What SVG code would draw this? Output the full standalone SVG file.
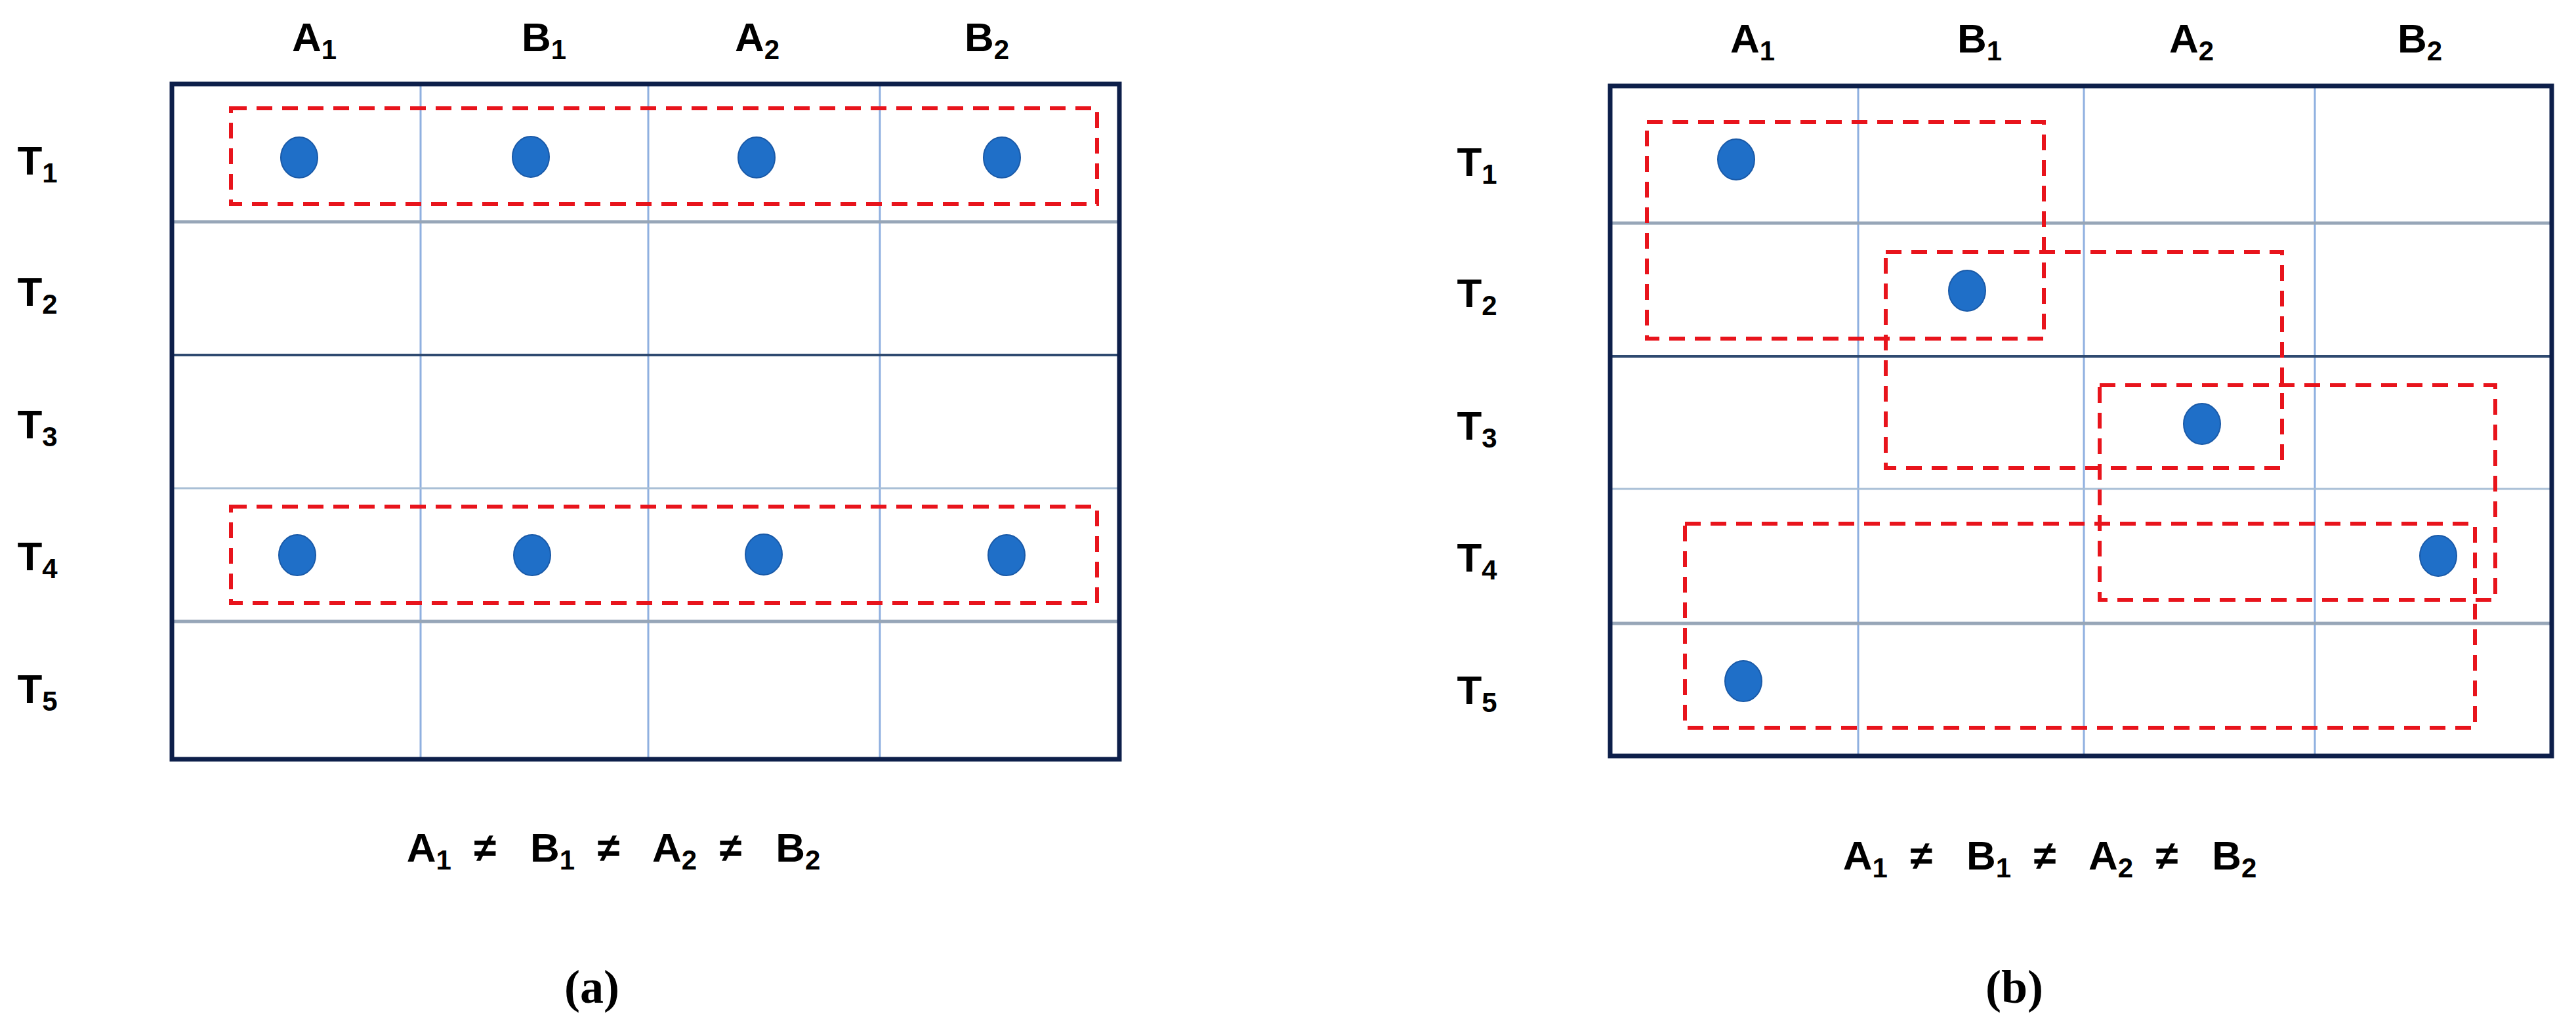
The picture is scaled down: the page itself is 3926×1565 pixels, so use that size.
<svg xmlns="http://www.w3.org/2000/svg" width="3926" height="1565" viewBox="0 0 3926 1565">
<style>
.lbl{font-family:"Liberation Sans",Arial,sans-serif;font-weight:bold;font-size:62px;fill:#000}
.sub{font-size:42px}
.cap{font-family:"Liberation Serif","Times New Roman",serif;font-weight:bold;font-size:72px;fill:#000}
.border{fill:none;stroke:#0d1f4a;stroke-width:7}
.v{stroke:#8fb0e0;stroke-width:3}
.hg{stroke:#97a6b8;stroke-width:5}
.hd{stroke:#2f4a70;stroke-width:4}
.hl{stroke:#a9bfd6;stroke-width:3}
.dash{fill:none;stroke:#e8141c;stroke-width:6;stroke-dasharray:24 15}
.dot{fill:#1f6fc8;stroke:#1a5aa8;stroke-width:2}
</style>
<rect width="3926" height="1565" fill="#fff"/>
<g id="panel-a">
<g id="grid-a">
<line class="v" x1="641" y1="128" x2="641" y2="1157"/>
<line class="v" x1="988" y1="128" x2="988" y2="1157"/>
<line class="v" x1="1341" y1="128" x2="1341" y2="1157"/>
<line class="hg" x1="262" y1="338" x2="1706" y2="338"/>
<line class="hd" x1="262" y1="541" x2="1706" y2="541"/>
<line class="hl" x1="262" y1="744" x2="1706" y2="744"/>
<line class="hg" x1="262" y1="947" x2="1706" y2="947"/>
<rect class="border" x="262" y="128" width="1444" height="1029"/>
</g>
<g id="groups-a">
<rect class="dash" x="352" y="165" width="1320" height="146"/>
<rect class="dash" x="352" y="772" width="1320" height="147"/>
</g>
<g id="dots-a">
<ellipse class="dot" cx="456" cy="240" rx="28" ry="31"/>
<ellipse class="dot" cx="809" cy="239" rx="28" ry="31"/>
<ellipse class="dot" cx="1153" cy="240" rx="28" ry="31"/>
<ellipse class="dot" cx="1527" cy="240" rx="28" ry="31"/>
<ellipse class="dot" cx="453" cy="846" rx="28" ry="31"/>
<ellipse class="dot" cx="811" cy="846" rx="28" ry="31"/>
<ellipse class="dot" cx="1164" cy="845" rx="28" ry="31"/>
<ellipse class="dot" cx="1534" cy="846" rx="28" ry="31"/>
</g>
<g id="cols-a" class="lbl" text-anchor="middle">
<text x="479" y="78">A<tspan class="sub" dy="12">1</tspan></text>
<text x="829" y="78">B<tspan class="sub" dy="12">1</tspan></text>
<text x="1154" y="78">A<tspan class="sub" dy="12">2</tspan></text>
<text x="1504" y="78">B<tspan class="sub" dy="12">2</tspan></text>
</g>
<g id="rows-a" class="lbl" text-anchor="middle">
<text x="57" y="266">T<tspan class="sub" dy="12">1</tspan></text>
<text x="57" y="466">T<tspan class="sub" dy="12">2</tspan></text>
<text x="57" y="668">T<tspan class="sub" dy="12">3</tspan></text>
<text x="57" y="869">T<tspan class="sub" dy="12">4</tspan></text>
<text x="57" y="1071">T<tspan class="sub" dy="12">5</tspan></text>
</g>
<text class="lbl" xml:space="preserve" style="white-space:pre" x="935" y="1313" text-anchor="middle">A<tspan class="sub" dy="12">1</tspan><tspan dy="-12">  ≠   B</tspan><tspan class="sub" dy="12">1</tspan><tspan dy="-12">  ≠   A</tspan><tspan class="sub" dy="12">2</tspan><tspan dy="-12">  ≠   B</tspan><tspan class="sub" dy="12">2</tspan></text>
<text class="cap" x="902" y="1528" text-anchor="middle">(a)</text>
</g>
<g id="panel-b">
<g id="grid-b">
<line class="v" x1="2832" y1="131" x2="2832" y2="1152"/>
<line class="v" x1="3176" y1="131" x2="3176" y2="1152"/>
<line class="v" x1="3528" y1="131" x2="3528" y2="1152"/>
<line class="hg" x1="2454" y1="340" x2="3889" y2="340"/>
<line class="hd" x1="2454" y1="543" x2="3889" y2="543"/>
<line class="hl" x1="2454" y1="745" x2="3889" y2="745"/>
<line class="hg" x1="2454" y1="950" x2="3889" y2="950"/>
<rect class="border" x="2454" y="131" width="1435" height="1021"/>
</g>
<g id="groups-b">
<rect class="dash" x="2510" y="186" width="605" height="330"/>
<rect class="dash" x="2874" y="384" width="604" height="329"/>
<rect class="dash" x="3200" y="587" width="603" height="327"/>
<rect class="dash" x="2568" y="798" width="1204" height="311"/>
</g>
<g id="dots-b">
<ellipse class="dot" cx="2646" cy="243" rx="28" ry="31"/>
<ellipse class="dot" cx="2998" cy="443" rx="28" ry="31"/>
<ellipse class="dot" cx="3356" cy="646" rx="28" ry="31"/>
<ellipse class="dot" cx="3716" cy="847" rx="28" ry="31"/>
<ellipse class="dot" cx="2657" cy="1038" rx="28" ry="31"/>
</g>
<g id="cols-b" class="lbl" text-anchor="middle">
<text x="2671" y="80">A<tspan class="sub" dy="12">1</tspan></text>
<text x="3017" y="80">B<tspan class="sub" dy="12">1</tspan></text>
<text x="3340" y="80">A<tspan class="sub" dy="12">2</tspan></text>
<text x="3688" y="80">B<tspan class="sub" dy="12">2</tspan></text>
</g>
<g id="rows-b" class="lbl" text-anchor="middle">
<text x="2251" y="268">T<tspan class="sub" dy="12">1</tspan></text>
<text x="2251" y="468">T<tspan class="sub" dy="12">2</tspan></text>
<text x="2251" y="670">T<tspan class="sub" dy="12">3</tspan></text>
<text x="2251" y="871">T<tspan class="sub" dy="12">4</tspan></text>
<text x="2251" y="1073">T<tspan class="sub" dy="12">5</tspan></text>
</g>
<text class="lbl" xml:space="preserve" style="white-space:pre" x="3124" y="1325" text-anchor="middle">A<tspan class="sub" dy="12">1</tspan><tspan dy="-12">  ≠   B</tspan><tspan class="sub" dy="12">1</tspan><tspan dy="-12">  ≠   A</tspan><tspan class="sub" dy="12">2</tspan><tspan dy="-12">  ≠   B</tspan><tspan class="sub" dy="12">2</tspan></text>
<text class="cap" x="3070" y="1528" text-anchor="middle">(b)</text>
</g>
</svg>
